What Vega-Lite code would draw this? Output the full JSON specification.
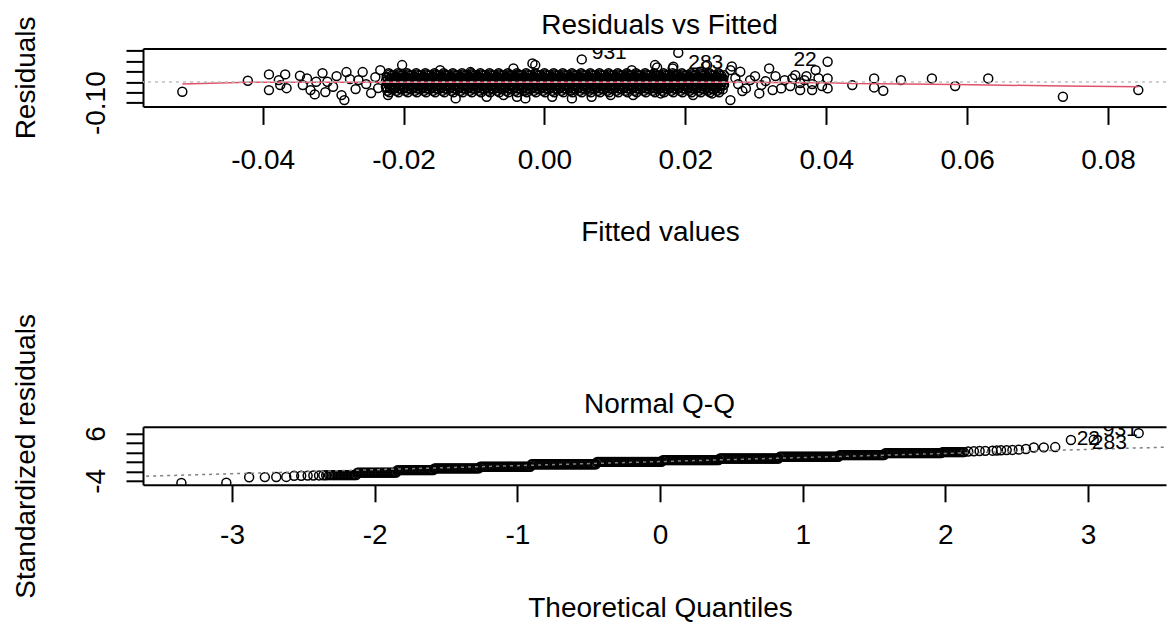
{
"$schema": "https://vega.github.io/schema/vega-lite/v6.json",
"background": "white",
"autosize": {"type": "pad"},
"padding": {"left": 12, "top": 12.4, "right": 0, "bottom": 0},
"bounds": "flush",
"spacing": 320.4,
"config": {
 "font": "Liberation Sans",
 "view": {"stroke": null},
 "axis": {"domainColor": "#000", "domainWidth": 2, "tickColor": "#000", "tickWidth": 2, "labelColor": "#000", "labelFontSize": 28, "labelFont": "Liberation Sans", "titleFont": "Liberation Sans", "titleFontSize": 28, "titleFontWeight": "normal", "titleColor": "#000", "grid": false, "labelOverlap": false, "labelFlush": false, "labelBound": false}
},
"datasets": {
 "resid": [
{"f":-0.0514,"r":-0.0476},{"f":-0.0421,"r":0.0056},{"f":-0.0391,"r":0.0365},{"f":-0.0391,"r":-0.0394},{"f":-0.0375,"r":-0.0152},{"f":-0.0368,"r":0.0365},{"f":-0.0377,"r":0.0089},{"f":-0.0366,"r":-0.030},{"f":-0.0347,"r":0.0297},{"f":-0.0343,"r":-0.0152},{"f":-0.0337,"r":0.0171},{"f":-0.0332,"r":-0.0394},{"f":-0.0326,"r":-0.060},{"f":-0.0324,"r":0.0007},{"f":-0.0315,"r":0.0427},{"f":-0.0311,"r":-0.049},{"f":-0.0308,"r":0.0007},{"f":-0.0300,"r":-0.0234},{"f":-0.0295,"r":0.0282},{"f":-0.0288,"r":-0.0635},{"f":-0.0284,"r":-0.0876},{"f":-0.0281,"r":0.0476},{"f":-0.0276,"r":0.0138},{"f":-0.0268,"r":-0.0345},{"f":-0.0264,"r":0.0089},{"f":-0.0258,"r":0.0476},{"f":-0.0253,"r":-0.0104},{"f":-0.0246,"r":-0.0538},{"f":-0.0240,"r":0.0234},{"f":-0.0236,"r":-0.0297},{"f":-0.0233,"r":0.0572},{"f":-0.0222,"r":-0.0635},{"f":-0.0202,"r":0.0814},{"f":-0.0148,"r":0.0572},{"f":-0.0126,"r":-0.0794},{"f":-0.0105,"r":0.0476},{"f":-0.0082,"r":-0.0717},{"f":-0.0058,"r":-0.0635},{"f":-0.0044,"r":0.0654},{"f":-0.0039,"r":-0.0717},{"f":-0.0027,"r":-0.0794},{"f":-0.0017,"r":0.0896},{"f":-0.0013,"r":0.0814},{"f":0.0011,"r":-0.0717},{"f":0.0039,"r":-0.0794},{"f":0.0053,"r":0.1089},{"f":0.0067,"r":-0.0717},{"f":0.0094,"r":-0.0635},{"f":0.0124,"r":0.0572},{"f":0.0126,"r":-0.0635},{"f":0.0157,"r":0.0814},{"f":0.0160,"r":0.070},{"f":0.0165,"r":-0.0553},{"f":0.0182,"r":0.0654},{"f":0.0183,"r":0.0732},{"f":0.0190,"r":0.1408},{"f":0.0211,"r":-0.0635},{"f":0.0221,"r":0.0490},{"f":0.0231,"r":0.0814},{"f":0.0238,"r":-0.0553},{"f":0.0264,"r":-0.0876},{"f":0.0264,"r":0.0572},{"f":0.0266,"r":0.075},{"f":0.0271,"r":0.0186},{"f":0.0275,"r":-0.0104},{"f":0.0278,"r":0.0490},{"f":0.0281,"r":-0.0441},{"f":0.0286,"r":-0.0311},{"f":0.0292,"r":0.0089},{"f":0.0299,"r":0.0282},{"f":0.0305,"r":-0.0553},{"f":0.0308,"r":-0.0152},{"f":0.0314,"r":0.0041},{"f":0.0319,"r":0.0654},{"f":0.0324,"r":-0.0394},{"f":0.0328,"r":0.0282},{"f":0.0336,"r":-0.0311},{"f":0.0341,"r":0.0089},{"f":0.0349,"r":-0.0200},{"f":0.0352,"r":0.0171},{"f":0.0356,"r":0.0331},{"f":0.0363,"r":-0.0394},{"f":0.0363,"r":-0.0056},{"f":0.0369,"r":0.0089},{"f":0.0372,"r":0.0282},{"f":0.0380,"r":-0.0394},{"f":0.0380,"r":-0.0104},{"f":0.0385,"r":0.0572},{"f":0.0389,"r":0.0186},{"f":0.0394,"r":-0.0200},{"f":0.0402,"r":0.0171},{"f":0.0402,"r":-0.0311},{"f":0.0402,"r":0.0973},{"f":0.0437,"r":-0.0152},{"f":0.0468,"r":0.0171},{"f":0.0468,"r":-0.0263},{"f":0.0481,"r":-0.0427},{"f":0.0506,"r":0.0089},{"f":0.0550,"r":0.0171},{"f":0.0583,"r":-0.0200},{"f":0.0630,"r":0.0171},{"f":0.0736,"r":-0.0717},{"f":0.0843,"r":-0.0394},
{"f":-0.0225,"r":0.004},{"f":-0.0224,"r":-0.028},{"f":-0.0223,"r":0.021},{"f":-0.0222,"r":-0.009},{"f":-0.0221,"r":0.042},{"f":-0.022,"r":-0.05},{"f":-0.0219,"r":0.012},{"f":-0.0218,"r":-0.018},{"f":-0.0217,"r":0.03},{"f":-0.0216,"r":-0.002},{"f":-0.0215,"r":-0.036},{"f":-0.0214,"r":0.016},{"f":-0.0213,"r":-0.013},
{"f":-0.0212,"r":0.004},{"f":-0.0211,"r":-0.028},{"f":-0.021,"r":0.021},{"f":-0.0209,"r":-0.009},{"f":-0.0208,"r":0.042},{"f":-0.0207,"r":-0.05},{"f":-0.0206,"r":0.012},{"f":-0.0205,"r":-0.018},{"f":-0.0204,"r":0.03},{"f":-0.0203,"r":-0.002},{"f":-0.0202,"r":-0.036},{"f":-0.0201,"r":0.016},{"f":-0.02,"r":-0.013},
{"f":-0.0199,"r":0.004},{"f":-0.0198,"r":-0.028},{"f":-0.0197,"r":0.021},{"f":-0.0196,"r":-0.009},{"f":-0.0195,"r":0.042},{"f":-0.0194,"r":-0.05},{"f":-0.0193,"r":0.012},{"f":-0.0192,"r":-0.018},{"f":-0.0191,"r":0.03},{"f":-0.019,"r":-0.002},{"f":-0.0189,"r":-0.036},{"f":-0.0188,"r":0.016},{"f":-0.0187,"r":-0.013},
{"f":-0.0186,"r":0.004},{"f":-0.0185,"r":-0.028},{"f":-0.0184,"r":0.021},{"f":-0.0183,"r":-0.009},{"f":-0.0182,"r":0.042},{"f":-0.0181,"r":-0.05},{"f":-0.018,"r":0.012},{"f":-0.0179,"r":-0.018},{"f":-0.0178,"r":0.03},{"f":-0.0177,"r":-0.002},{"f":-0.0176,"r":-0.036},{"f":-0.0175,"r":0.016},{"f":-0.0174,"r":-0.013},
{"f":-0.0173,"r":0.004},{"f":-0.0172,"r":-0.028},{"f":-0.0171,"r":0.021},{"f":-0.017,"r":-0.009},{"f":-0.0169,"r":0.042},{"f":-0.0168,"r":-0.05},{"f":-0.0167,"r":0.012},{"f":-0.0166,"r":-0.018},{"f":-0.0165,"r":0.03},{"f":-0.0164,"r":-0.002},{"f":-0.0163,"r":-0.036},{"f":-0.0162,"r":0.016},{"f":-0.0161,"r":-0.013},
{"f":-0.016,"r":0.004},{"f":-0.0159,"r":-0.028},{"f":-0.0158,"r":0.021},{"f":-0.0157,"r":-0.009},{"f":-0.0156,"r":0.042},{"f":-0.0155,"r":-0.05},{"f":-0.0154,"r":0.012},{"f":-0.0153,"r":-0.018},{"f":-0.0152,"r":0.03},{"f":-0.0151,"r":-0.002},{"f":-0.015,"r":-0.036},{"f":-0.0149,"r":0.016},{"f":-0.0148,"r":-0.013},
{"f":-0.0147,"r":0.004},{"f":-0.0146,"r":-0.028},{"f":-0.0145,"r":0.021},{"f":-0.0144,"r":-0.009},{"f":-0.0143,"r":0.042},{"f":-0.0142,"r":-0.05},{"f":-0.0141,"r":0.012},{"f":-0.014,"r":-0.018},{"f":-0.0139,"r":0.03},{"f":-0.0138,"r":-0.002},{"f":-0.0137,"r":-0.036},{"f":-0.0136,"r":0.016},{"f":-0.0135,"r":-0.013},
{"f":-0.0134,"r":0.004},{"f":-0.0133,"r":-0.028},{"f":-0.0132,"r":0.021},{"f":-0.0131,"r":-0.009},{"f":-0.013,"r":0.042},{"f":-0.0129,"r":-0.05},{"f":-0.0128,"r":0.012},{"f":-0.0127,"r":-0.018},{"f":-0.0126,"r":0.03},{"f":-0.0125,"r":-0.002},{"f":-0.0124,"r":-0.036},{"f":-0.0123,"r":0.016},{"f":-0.0122,"r":-0.013},
{"f":-0.0121,"r":0.004},{"f":-0.012,"r":-0.028},{"f":-0.0119,"r":0.021},{"f":-0.0118,"r":-0.009},{"f":-0.0117,"r":0.042},{"f":-0.0116,"r":-0.05},{"f":-0.0115,"r":0.012},{"f":-0.0114,"r":-0.018},{"f":-0.0113,"r":0.03},{"f":-0.0112,"r":-0.002},{"f":-0.0111,"r":-0.036},{"f":-0.011,"r":0.016},{"f":-0.0109,"r":-0.013},
{"f":-0.0108,"r":0.004},{"f":-0.0107,"r":-0.028},{"f":-0.0106,"r":0.021},{"f":-0.0105,"r":-0.009},{"f":-0.0104,"r":0.042},{"f":-0.0103,"r":-0.05},{"f":-0.0102,"r":0.012},{"f":-0.0101,"r":-0.018},{"f":-0.01,"r":0.03},{"f":-0.0099,"r":-0.002},{"f":-0.0098,"r":-0.036},{"f":-0.0097,"r":0.016},{"f":-0.0096,"r":-0.013},
{"f":-0.0095,"r":0.004},{"f":-0.0094,"r":-0.028},{"f":-0.0093,"r":0.021},{"f":-0.0092,"r":-0.009},{"f":-0.0091,"r":0.042},{"f":-0.009,"r":-0.05},{"f":-0.0089,"r":0.012},{"f":-0.0088,"r":-0.018},{"f":-0.0087,"r":0.03},{"f":-0.0086,"r":-0.002},{"f":-0.0085,"r":-0.036},{"f":-0.0084,"r":0.016},{"f":-0.0083,"r":-0.013},
{"f":-0.0082,"r":0.004},{"f":-0.0081,"r":-0.028},{"f":-0.008,"r":0.021},{"f":-0.0079,"r":-0.009},{"f":-0.0078,"r":0.042},{"f":-0.0077,"r":-0.05},{"f":-0.0076,"r":0.012},{"f":-0.0075,"r":-0.018},{"f":-0.0074,"r":0.03},{"f":-0.0073,"r":-0.002},{"f":-0.0072,"r":-0.036},{"f":-0.0071,"r":0.016},{"f":-0.007,"r":-0.013},
{"f":-0.0069,"r":0.004},{"f":-0.0068,"r":-0.028},{"f":-0.0067,"r":0.021},{"f":-0.0066,"r":-0.009},{"f":-0.0065,"r":0.042},{"f":-0.0064,"r":-0.05},{"f":-0.0063,"r":0.012},{"f":-0.0062,"r":-0.018},{"f":-0.0061,"r":0.03},{"f":-0.006,"r":-0.002},{"f":-0.0059,"r":-0.036},{"f":-0.0058,"r":0.016},{"f":-0.0057,"r":-0.013},
{"f":-0.0056,"r":0.004},{"f":-0.0055,"r":-0.028},{"f":-0.0054,"r":0.021},{"f":-0.0053,"r":-0.009},{"f":-0.0052,"r":0.042},{"f":-0.0051,"r":-0.05},{"f":-0.005,"r":0.012},{"f":-0.0049,"r":-0.018},{"f":-0.0048,"r":0.03},{"f":-0.0047,"r":-0.002},{"f":-0.0046,"r":-0.036},{"f":-0.0045,"r":0.016},{"f":-0.0044,"r":-0.013},
{"f":-0.0043,"r":0.004},{"f":-0.0042,"r":-0.028},{"f":-0.0041,"r":0.021},{"f":-0.004,"r":-0.009},{"f":-0.0039,"r":0.042},{"f":-0.0038,"r":-0.05},{"f":-0.0037,"r":0.012},{"f":-0.0036,"r":-0.018},{"f":-0.0035,"r":0.03},{"f":-0.0034,"r":-0.002},{"f":-0.0033,"r":-0.036},{"f":-0.0032,"r":0.016},{"f":-0.0031,"r":-0.013},
{"f":-0.003,"r":0.004},{"f":-0.0029,"r":-0.028},{"f":-0.0028,"r":0.021},{"f":-0.0027,"r":-0.009},{"f":-0.0026,"r":0.042},{"f":-0.0025,"r":-0.05},{"f":-0.0024,"r":0.012},{"f":-0.0023,"r":-0.018},{"f":-0.0022,"r":0.03},{"f":-0.0021,"r":-0.002},{"f":-0.002,"r":-0.036},{"f":-0.0019,"r":0.016},{"f":-0.0018,"r":-0.013},
{"f":-0.0017,"r":0.004},{"f":-0.0016,"r":-0.028},{"f":-0.0015,"r":0.021},{"f":-0.0014,"r":-0.009},{"f":-0.0013,"r":0.042},{"f":-0.0012,"r":-0.05},{"f":-0.0011,"r":0.012},{"f":-0.001,"r":-0.018},{"f":-0.0009,"r":0.03},{"f":-0.0008,"r":-0.002},{"f":-0.0007,"r":-0.036},{"f":-0.0006,"r":0.016},{"f":-0.0005,"r":-0.013},
{"f":-0.0004,"r":0.004},{"f":-0.0003,"r":-0.028},{"f":-0.0002,"r":0.021},{"f":-0.0001,"r":-0.009},{"f":0,"r":0.042},{"f":0.0001,"r":-0.05},{"f":0.0002,"r":0.012},{"f":0.0003,"r":-0.018},{"f":0.0004,"r":0.03},{"f":0.0005,"r":-0.002},{"f":0.0006,"r":-0.036},{"f":0.0007,"r":0.016},{"f":0.0008,"r":-0.013},
{"f":0.0009,"r":0.004},{"f":0.001,"r":-0.028},{"f":0.0011,"r":0.021},{"f":0.0012,"r":-0.009},{"f":0.0013,"r":0.042},{"f":0.0014,"r":-0.05},{"f":0.0015,"r":0.012},{"f":0.0016,"r":-0.018},{"f":0.0017,"r":0.03},{"f":0.0018,"r":-0.002},{"f":0.0019,"r":-0.036},{"f":0.002,"r":0.016},{"f":0.0021,"r":-0.013},
{"f":0.0022,"r":0.004},{"f":0.0023,"r":-0.028},{"f":0.0024,"r":0.021},{"f":0.0025,"r":-0.009},{"f":0.0026,"r":0.042},{"f":0.0027,"r":-0.05},{"f":0.0028,"r":0.012},{"f":0.0029,"r":-0.018},{"f":0.003,"r":0.03},{"f":0.0031,"r":-0.002},{"f":0.0032,"r":-0.036},{"f":0.0033,"r":0.016},{"f":0.0034,"r":-0.013},
{"f":0.0035,"r":0.004},{"f":0.0036,"r":-0.028},{"f":0.0037,"r":0.021},{"f":0.0038,"r":-0.009},{"f":0.0039,"r":0.042},{"f":0.004,"r":-0.05},{"f":0.0041,"r":0.012},{"f":0.0042,"r":-0.018},{"f":0.0043,"r":0.03},{"f":0.0044,"r":-0.002},{"f":0.0045,"r":-0.036},{"f":0.0046,"r":0.016},{"f":0.0047,"r":-0.013},
{"f":0.0048,"r":0.004},{"f":0.0049,"r":-0.028},{"f":0.005,"r":0.021},{"f":0.0051,"r":-0.009},{"f":0.0052,"r":0.042},{"f":0.0053,"r":-0.05},{"f":0.0054,"r":0.012},{"f":0.0055,"r":-0.018},{"f":0.0056,"r":0.03},{"f":0.0057,"r":-0.002},{"f":0.0058,"r":-0.036},{"f":0.0059,"r":0.016},{"f":0.006,"r":-0.013},
{"f":0.0061,"r":0.004},{"f":0.0062,"r":-0.028},{"f":0.0063,"r":0.021},{"f":0.0064,"r":-0.009},{"f":0.0065,"r":0.042},{"f":0.0066,"r":-0.05},{"f":0.0067,"r":0.012},{"f":0.0068,"r":-0.018},{"f":0.0069,"r":0.03},{"f":0.007,"r":-0.002},{"f":0.0071,"r":-0.036},{"f":0.0072,"r":0.016},{"f":0.0073,"r":-0.013},
{"f":0.0074,"r":0.004},{"f":0.0075,"r":-0.028},{"f":0.0076,"r":0.021},{"f":0.0077,"r":-0.009},{"f":0.0078,"r":0.042},{"f":0.0079,"r":-0.05},{"f":0.008,"r":0.012},{"f":0.0081,"r":-0.018},{"f":0.0082,"r":0.03},{"f":0.0083,"r":-0.002},{"f":0.0084,"r":-0.036},{"f":0.0085,"r":0.016},{"f":0.0086,"r":-0.013},
{"f":0.0087,"r":0.004},{"f":0.0088,"r":-0.028},{"f":0.0089,"r":0.021},{"f":0.009,"r":-0.009},{"f":0.0091,"r":0.042},{"f":0.0092,"r":-0.05},{"f":0.0093,"r":0.012},{"f":0.0094,"r":-0.018},{"f":0.0095,"r":0.03},{"f":0.0096,"r":-0.002},{"f":0.0097,"r":-0.036},{"f":0.0098,"r":0.016},{"f":0.0099,"r":-0.013},
{"f":0.01,"r":0.004},{"f":0.0101,"r":-0.028},{"f":0.0102,"r":0.021},{"f":0.0103,"r":-0.009},{"f":0.0104,"r":0.042},{"f":0.0105,"r":-0.05},{"f":0.0106,"r":0.012},{"f":0.0107,"r":-0.018},{"f":0.0108,"r":0.03},{"f":0.0109,"r":-0.002},{"f":0.011,"r":-0.036},{"f":0.0111,"r":0.016},{"f":0.0112,"r":-0.013},
{"f":0.0113,"r":0.004},{"f":0.0114,"r":-0.028},{"f":0.0115,"r":0.021},{"f":0.0116,"r":-0.009},{"f":0.0117,"r":0.042},{"f":0.0118,"r":-0.05},{"f":0.0119,"r":0.012},{"f":0.012,"r":-0.018},{"f":0.0121,"r":0.03},{"f":0.0122,"r":-0.002},{"f":0.0123,"r":-0.036},{"f":0.0124,"r":0.016},{"f":0.0125,"r":-0.013},
{"f":0.0126,"r":0.004},{"f":0.0127,"r":-0.028},{"f":0.0128,"r":0.021},{"f":0.0129,"r":-0.009},{"f":0.013,"r":0.042},{"f":0.0131,"r":-0.05},{"f":0.0132,"r":0.012},{"f":0.0133,"r":-0.018},{"f":0.0134,"r":0.03},{"f":0.0135,"r":-0.002},{"f":0.0136,"r":-0.036},{"f":0.0137,"r":0.016},{"f":0.0138,"r":-0.013},
{"f":0.0139,"r":0.004},{"f":0.014,"r":-0.028},{"f":0.0141,"r":0.021},{"f":0.0142,"r":-0.009},{"f":0.0143,"r":0.042},{"f":0.0144,"r":-0.05},{"f":0.0145,"r":0.012},{"f":0.0146,"r":-0.018},{"f":0.0147,"r":0.03},{"f":0.0148,"r":-0.002},{"f":0.0149,"r":-0.036},{"f":0.015,"r":0.016},{"f":0.0151,"r":-0.013},
{"f":0.0152,"r":0.004},{"f":0.0153,"r":-0.028},{"f":0.0154,"r":0.021},{"f":0.0155,"r":-0.009},{"f":0.0156,"r":0.042},{"f":0.0157,"r":-0.05},{"f":0.0158,"r":0.012},{"f":0.0159,"r":-0.018},{"f":0.016,"r":0.03},{"f":0.0161,"r":-0.002},{"f":0.0162,"r":-0.036},{"f":0.0163,"r":0.016},{"f":0.0164,"r":-0.013},
{"f":0.0165,"r":0.004},{"f":0.0166,"r":-0.028},{"f":0.0167,"r":0.021},{"f":0.0168,"r":-0.009},{"f":0.0169,"r":0.042},{"f":0.017,"r":-0.05},{"f":0.0171,"r":0.012},{"f":0.0172,"r":-0.018},{"f":0.0173,"r":0.03},{"f":0.0174,"r":-0.002},{"f":0.0175,"r":-0.036},{"f":0.0176,"r":0.016},{"f":0.0177,"r":-0.013},
{"f":0.0178,"r":0.004},{"f":0.0179,"r":-0.028},{"f":0.018,"r":0.021},{"f":0.0181,"r":-0.009},{"f":0.0182,"r":0.042},{"f":0.0183,"r":-0.05},{"f":0.0184,"r":0.012},{"f":0.0185,"r":-0.018},{"f":0.0186,"r":0.03},{"f":0.0187,"r":-0.002},{"f":0.0188,"r":-0.036},{"f":0.0189,"r":0.016},{"f":0.019,"r":-0.013},
{"f":0.0191,"r":0.004},{"f":0.0192,"r":-0.028},{"f":0.0193,"r":0.021},{"f":0.0194,"r":-0.009},{"f":0.0195,"r":0.042},{"f":0.0196,"r":-0.05},{"f":0.0197,"r":0.012},{"f":0.0198,"r":-0.018},{"f":0.0199,"r":0.03},{"f":0.02,"r":-0.002},{"f":0.0201,"r":-0.036},{"f":0.0202,"r":0.016},{"f":0.0203,"r":-0.013},
{"f":0.0204,"r":0.004},{"f":0.0205,"r":-0.028},{"f":0.0206,"r":0.021},{"f":0.0207,"r":-0.009},{"f":0.0208,"r":0.042},{"f":0.0209,"r":-0.05},{"f":0.021,"r":0.012},{"f":0.0211,"r":-0.018},{"f":0.0212,"r":0.03},{"f":0.0213,"r":-0.002},{"f":0.0214,"r":-0.036},{"f":0.0215,"r":0.016},{"f":0.0216,"r":-0.013},
{"f":0.0217,"r":0.004},{"f":0.0218,"r":-0.028},{"f":0.0219,"r":0.021},{"f":0.022,"r":-0.009},{"f":0.0221,"r":0.042},{"f":0.0222,"r":-0.05},{"f":0.0223,"r":0.012},{"f":0.0224,"r":-0.018},{"f":0.0225,"r":0.03},{"f":0.0226,"r":-0.002},{"f":0.0227,"r":-0.036},{"f":0.0228,"r":0.016},{"f":0.0229,"r":-0.013},
{"f":0.023,"r":0.004},{"f":0.0231,"r":-0.028},{"f":0.0232,"r":0.021},{"f":0.0233,"r":-0.009},{"f":0.0234,"r":0.042},{"f":0.0235,"r":-0.05},{"f":0.0236,"r":0.012},{"f":0.0237,"r":-0.018},{"f":0.0238,"r":0.03},{"f":0.0239,"r":-0.002},{"f":0.024,"r":-0.036},{"f":0.0241,"r":0.016},{"f":0.0242,"r":-0.013},
{"f":0.0243,"r":0.004},{"f":0.0244,"r":-0.028},{"f":0.0245,"r":0.021},{"f":0.0246,"r":-0.009},{"f":0.0247,"r":0.042},{"f":0.0248,"r":-0.05},{"f":0.0249,"r":0.012},{"f":0.025,"r":-0.018},{"f":0.0251,"r":0.03},{"f":0.0252,"r":-0.002},{"f":0.0253,"r":-0.036},{"f":0.0254,"r":0.016},{"f":0.0255,"r":-0.013},
{"f":-0.0225,"r":-0.023},{"f":-0.0224,"r":0.025},{"f":-0.0223,"r":-0.043},{"f":-0.0222,"r":0.008},{"f":-0.0221,"r":-0.0055},{"f":-0.022,"r":0.036},{"f":-0.0219,"r":-0.032},{"f":-0.0218,"r":0.0185},{"f":-0.0217,"r":-0.011},{"f":-0.0216,"r":0.001},{"f":-0.0215,"r":0.014},{"f":-0.0214,"r":-0.0155},{"f":-0.0213,"r":0.033},
{"f":-0.0212,"r":-0.023},{"f":-0.0211,"r":0.025},{"f":-0.021,"r":-0.043},{"f":-0.0209,"r":0.008},{"f":-0.0208,"r":-0.0055},{"f":-0.0207,"r":0.036},{"f":-0.0206,"r":-0.032},{"f":-0.0205,"r":0.0185},{"f":-0.0204,"r":-0.011},{"f":-0.0203,"r":0.001},{"f":-0.0202,"r":0.014},{"f":-0.0201,"r":-0.0155},{"f":-0.02,"r":0.033},
{"f":-0.0199,"r":-0.023},{"f":-0.0198,"r":0.025},{"f":-0.0197,"r":-0.043},{"f":-0.0196,"r":0.008},{"f":-0.0195,"r":-0.0055},{"f":-0.0194,"r":0.036},{"f":-0.0193,"r":-0.032},{"f":-0.0192,"r":0.0185},{"f":-0.0191,"r":-0.011},{"f":-0.019,"r":0.001},{"f":-0.0189,"r":0.014},{"f":-0.0188,"r":-0.0155},{"f":-0.0187,"r":0.033},
{"f":-0.0186,"r":-0.023},{"f":-0.0185,"r":0.025},{"f":-0.0184,"r":-0.043},{"f":-0.0183,"r":0.008},{"f":-0.0182,"r":-0.0055},{"f":-0.0181,"r":0.036},{"f":-0.018,"r":-0.032},{"f":-0.0179,"r":0.0185},{"f":-0.0178,"r":-0.011},{"f":-0.0177,"r":0.001},{"f":-0.0176,"r":0.014},{"f":-0.0175,"r":-0.0155},{"f":-0.0174,"r":0.033},
{"f":-0.0173,"r":-0.023},{"f":-0.0172,"r":0.025},{"f":-0.0171,"r":-0.043},{"f":-0.017,"r":0.008},{"f":-0.0169,"r":-0.0055},{"f":-0.0168,"r":0.036},{"f":-0.0167,"r":-0.032},{"f":-0.0166,"r":0.0185},{"f":-0.0165,"r":-0.011},{"f":-0.0164,"r":0.001},{"f":-0.0163,"r":0.014},{"f":-0.0162,"r":-0.0155},{"f":-0.0161,"r":0.033},
{"f":-0.016,"r":-0.023},{"f":-0.0159,"r":0.025},{"f":-0.0158,"r":-0.043},{"f":-0.0157,"r":0.008},{"f":-0.0156,"r":-0.0055},{"f":-0.0155,"r":0.036},{"f":-0.0154,"r":-0.032},{"f":-0.0153,"r":0.0185},{"f":-0.0152,"r":-0.011},{"f":-0.0151,"r":0.001},{"f":-0.015,"r":0.014},{"f":-0.0149,"r":-0.0155},{"f":-0.0148,"r":0.033},
{"f":-0.0147,"r":-0.023},{"f":-0.0146,"r":0.025},{"f":-0.0145,"r":-0.043},{"f":-0.0144,"r":0.008},{"f":-0.0143,"r":-0.0055},{"f":-0.0142,"r":0.036},{"f":-0.0141,"r":-0.032},{"f":-0.014,"r":0.0185},{"f":-0.0139,"r":-0.011},{"f":-0.0138,"r":0.001},{"f":-0.0137,"r":0.014},{"f":-0.0136,"r":-0.0155},{"f":-0.0135,"r":0.033},
{"f":-0.0134,"r":-0.023},{"f":-0.0133,"r":0.025},{"f":-0.0132,"r":-0.043},{"f":-0.0131,"r":0.008},{"f":-0.013,"r":-0.0055},{"f":-0.0129,"r":0.036},{"f":-0.0128,"r":-0.032},{"f":-0.0127,"r":0.0185},{"f":-0.0126,"r":-0.011},{"f":-0.0125,"r":0.001},{"f":-0.0124,"r":0.014},{"f":-0.0123,"r":-0.0155},{"f":-0.0122,"r":0.033},
{"f":-0.0121,"r":-0.023},{"f":-0.012,"r":0.025},{"f":-0.0119,"r":-0.043},{"f":-0.0118,"r":0.008},{"f":-0.0117,"r":-0.0055},{"f":-0.0116,"r":0.036},{"f":-0.0115,"r":-0.032},{"f":-0.0114,"r":0.0185},{"f":-0.0113,"r":-0.011},{"f":-0.0112,"r":0.001},{"f":-0.0111,"r":0.014},{"f":-0.011,"r":-0.0155},{"f":-0.0109,"r":0.033},
{"f":-0.0108,"r":-0.023},{"f":-0.0107,"r":0.025},{"f":-0.0106,"r":-0.043},{"f":-0.0105,"r":0.008},{"f":-0.0104,"r":-0.0055},{"f":-0.0103,"r":0.036},{"f":-0.0102,"r":-0.032},{"f":-0.0101,"r":0.0185},{"f":-0.01,"r":-0.011},{"f":-0.0099,"r":0.001},{"f":-0.0098,"r":0.014},{"f":-0.0097,"r":-0.0155},{"f":-0.0096,"r":0.033},
{"f":-0.0095,"r":-0.023},{"f":-0.0094,"r":0.025},{"f":-0.0093,"r":-0.043},{"f":-0.0092,"r":0.008},{"f":-0.0091,"r":-0.0055},{"f":-0.009,"r":0.036},{"f":-0.0089,"r":-0.032},{"f":-0.0088,"r":0.0185},{"f":-0.0087,"r":-0.011},{"f":-0.0086,"r":0.001},{"f":-0.0085,"r":0.014},{"f":-0.0084,"r":-0.0155},{"f":-0.0083,"r":0.033},
{"f":-0.0082,"r":-0.023},{"f":-0.0081,"r":0.025},{"f":-0.008,"r":-0.043},{"f":-0.0079,"r":0.008},{"f":-0.0078,"r":-0.0055},{"f":-0.0077,"r":0.036},{"f":-0.0076,"r":-0.032},{"f":-0.0075,"r":0.0185},{"f":-0.0074,"r":-0.011},{"f":-0.0073,"r":0.001},{"f":-0.0072,"r":0.014},{"f":-0.0071,"r":-0.0155},{"f":-0.007,"r":0.033},
{"f":-0.0069,"r":-0.023},{"f":-0.0068,"r":0.025},{"f":-0.0067,"r":-0.043},{"f":-0.0066,"r":0.008},{"f":-0.0065,"r":-0.0055},{"f":-0.0064,"r":0.036},{"f":-0.0063,"r":-0.032},{"f":-0.0062,"r":0.0185},{"f":-0.0061,"r":-0.011},{"f":-0.006,"r":0.001},{"f":-0.0059,"r":0.014},{"f":-0.0058,"r":-0.0155},{"f":-0.0057,"r":0.033},
{"f":-0.0056,"r":-0.023},{"f":-0.0055,"r":0.025},{"f":-0.0054,"r":-0.043},{"f":-0.0053,"r":0.008},{"f":-0.0052,"r":-0.0055},{"f":-0.0051,"r":0.036},{"f":-0.005,"r":-0.032},{"f":-0.0049,"r":0.0185},{"f":-0.0048,"r":-0.011},{"f":-0.0047,"r":0.001},{"f":-0.0046,"r":0.014},{"f":-0.0045,"r":-0.0155},{"f":-0.0044,"r":0.033},
{"f":-0.0043,"r":-0.023},{"f":-0.0042,"r":0.025},{"f":-0.0041,"r":-0.043},{"f":-0.004,"r":0.008},{"f":-0.0039,"r":-0.0055},{"f":-0.0038,"r":0.036},{"f":-0.0037,"r":-0.032},{"f":-0.0036,"r":0.0185},{"f":-0.0035,"r":-0.011},{"f":-0.0034,"r":0.001},{"f":-0.0033,"r":0.014},{"f":-0.0032,"r":-0.0155},{"f":-0.0031,"r":0.033},
{"f":-0.003,"r":-0.023},{"f":-0.0029,"r":0.025},{"f":-0.0028,"r":-0.043},{"f":-0.0027,"r":0.008},{"f":-0.0026,"r":-0.0055},{"f":-0.0025,"r":0.036},{"f":-0.0024,"r":-0.032},{"f":-0.0023,"r":0.0185},{"f":-0.0022,"r":-0.011},{"f":-0.0021,"r":0.001},{"f":-0.002,"r":0.014},{"f":-0.0019,"r":-0.0155},{"f":-0.0018,"r":0.033},
{"f":-0.0017,"r":-0.023},{"f":-0.0016,"r":0.025},{"f":-0.0015,"r":-0.043},{"f":-0.0014,"r":0.008},{"f":-0.0013,"r":-0.0055},{"f":-0.0012,"r":0.036},{"f":-0.0011,"r":-0.032},{"f":-0.001,"r":0.0185},{"f":-0.0009,"r":-0.011},{"f":-0.0008,"r":0.001},{"f":-0.0007,"r":0.014},{"f":-0.0006,"r":-0.0155},{"f":-0.0005,"r":0.033},
{"f":-0.0004,"r":-0.023},{"f":-0.0003,"r":0.025},{"f":-0.0002,"r":-0.043},{"f":-0.0001,"r":0.008},{"f":0,"r":-0.0055},{"f":0.0001,"r":0.036},{"f":0.0002,"r":-0.032},{"f":0.0003,"r":0.0185},{"f":0.0004,"r":-0.011},{"f":0.0005,"r":0.001},{"f":0.0006,"r":0.014},{"f":0.0007,"r":-0.0155},{"f":0.0008,"r":0.033},
{"f":0.0009,"r":-0.023},{"f":0.001,"r":0.025},{"f":0.0011,"r":-0.043},{"f":0.0012,"r":0.008},{"f":0.0013,"r":-0.0055},{"f":0.0014,"r":0.036},{"f":0.0015,"r":-0.032},{"f":0.0016,"r":0.0185},{"f":0.0017,"r":-0.011},{"f":0.0018,"r":0.001},{"f":0.0019,"r":0.014},{"f":0.002,"r":-0.0155},{"f":0.0021,"r":0.033},
{"f":0.0022,"r":-0.023},{"f":0.0023,"r":0.025},{"f":0.0024,"r":-0.043},{"f":0.0025,"r":0.008},{"f":0.0026,"r":-0.0055},{"f":0.0027,"r":0.036},{"f":0.0028,"r":-0.032},{"f":0.0029,"r":0.0185},{"f":0.003,"r":-0.011},{"f":0.0031,"r":0.001},{"f":0.0032,"r":0.014},{"f":0.0033,"r":-0.0155},{"f":0.0034,"r":0.033},
{"f":0.0035,"r":-0.023},{"f":0.0036,"r":0.025},{"f":0.0037,"r":-0.043},{"f":0.0038,"r":0.008},{"f":0.0039,"r":-0.0055},{"f":0.004,"r":0.036},{"f":0.0041,"r":-0.032},{"f":0.0042,"r":0.0185},{"f":0.0043,"r":-0.011},{"f":0.0044,"r":0.001},{"f":0.0045,"r":0.014},{"f":0.0046,"r":-0.0155},{"f":0.0047,"r":0.033},
{"f":0.0048,"r":-0.023},{"f":0.0049,"r":0.025},{"f":0.005,"r":-0.043},{"f":0.0051,"r":0.008},{"f":0.0052,"r":-0.0055},{"f":0.0053,"r":0.036},{"f":0.0054,"r":-0.032},{"f":0.0055,"r":0.0185},{"f":0.0056,"r":-0.011},{"f":0.0057,"r":0.001},{"f":0.0058,"r":0.014},{"f":0.0059,"r":-0.0155},{"f":0.006,"r":0.033},
{"f":0.0061,"r":-0.023},{"f":0.0062,"r":0.025},{"f":0.0063,"r":-0.043},{"f":0.0064,"r":0.008},{"f":0.0065,"r":-0.0055},{"f":0.0066,"r":0.036},{"f":0.0067,"r":-0.032},{"f":0.0068,"r":0.0185},{"f":0.0069,"r":-0.011},{"f":0.007,"r":0.001},{"f":0.0071,"r":0.014},{"f":0.0072,"r":-0.0155},{"f":0.0073,"r":0.033},
{"f":0.0074,"r":-0.023},{"f":0.0075,"r":0.025},{"f":0.0076,"r":-0.043},{"f":0.0077,"r":0.008},{"f":0.0078,"r":-0.0055},{"f":0.0079,"r":0.036},{"f":0.008,"r":-0.032},{"f":0.0081,"r":0.0185},{"f":0.0082,"r":-0.011},{"f":0.0083,"r":0.001},{"f":0.0084,"r":0.014},{"f":0.0085,"r":-0.0155},{"f":0.0086,"r":0.033},
{"f":0.0087,"r":-0.023},{"f":0.0088,"r":0.025},{"f":0.0089,"r":-0.043},{"f":0.009,"r":0.008},{"f":0.0091,"r":-0.0055},{"f":0.0092,"r":0.036},{"f":0.0093,"r":-0.032},{"f":0.0094,"r":0.0185},{"f":0.0095,"r":-0.011},{"f":0.0096,"r":0.001},{"f":0.0097,"r":0.014},{"f":0.0098,"r":-0.0155},{"f":0.0099,"r":0.033},
{"f":0.01,"r":-0.023},{"f":0.0101,"r":0.025},{"f":0.0102,"r":-0.043},{"f":0.0103,"r":0.008},{"f":0.0104,"r":-0.0055},{"f":0.0105,"r":0.036},{"f":0.0106,"r":-0.032},{"f":0.0107,"r":0.0185},{"f":0.0108,"r":-0.011},{"f":0.0109,"r":0.001},{"f":0.011,"r":0.014},{"f":0.0111,"r":-0.0155},{"f":0.0112,"r":0.033},
{"f":0.0113,"r":-0.023},{"f":0.0114,"r":0.025},{"f":0.0115,"r":-0.043},{"f":0.0116,"r":0.008},{"f":0.0117,"r":-0.0055},{"f":0.0118,"r":0.036},{"f":0.0119,"r":-0.032},{"f":0.012,"r":0.0185},{"f":0.0121,"r":-0.011},{"f":0.0122,"r":0.001},{"f":0.0123,"r":0.014},{"f":0.0124,"r":-0.0155},{"f":0.0125,"r":0.033},
{"f":0.0126,"r":-0.023},{"f":0.0127,"r":0.025},{"f":0.0128,"r":-0.043},{"f":0.0129,"r":0.008},{"f":0.013,"r":-0.0055},{"f":0.0131,"r":0.036},{"f":0.0132,"r":-0.032},{"f":0.0133,"r":0.0185},{"f":0.0134,"r":-0.011},{"f":0.0135,"r":0.001},{"f":0.0136,"r":0.014},{"f":0.0137,"r":-0.0155},{"f":0.0138,"r":0.033},
{"f":0.0139,"r":-0.023},{"f":0.014,"r":0.025},{"f":0.0141,"r":-0.043},{"f":0.0142,"r":0.008},{"f":0.0143,"r":-0.0055},{"f":0.0144,"r":0.036},{"f":0.0145,"r":-0.032},{"f":0.0146,"r":0.0185},{"f":0.0147,"r":-0.011},{"f":0.0148,"r":0.001},{"f":0.0149,"r":0.014},{"f":0.015,"r":-0.0155},{"f":0.0151,"r":0.033},
{"f":0.0152,"r":-0.023},{"f":0.0153,"r":0.025},{"f":0.0154,"r":-0.043},{"f":0.0155,"r":0.008},{"f":0.0156,"r":-0.0055},{"f":0.0157,"r":0.036},{"f":0.0158,"r":-0.032},{"f":0.0159,"r":0.0185},{"f":0.016,"r":-0.011},{"f":0.0161,"r":0.001},{"f":0.0162,"r":0.014},{"f":0.0163,"r":-0.0155},{"f":0.0164,"r":0.033},
{"f":0.0165,"r":-0.023},{"f":0.0166,"r":0.025},{"f":0.0167,"r":-0.043},{"f":0.0168,"r":0.008},{"f":0.0169,"r":-0.0055},{"f":0.017,"r":0.036},{"f":0.0171,"r":-0.032},{"f":0.0172,"r":0.0185},{"f":0.0173,"r":-0.011},{"f":0.0174,"r":0.001},{"f":0.0175,"r":0.014},{"f":0.0176,"r":-0.0155},{"f":0.0177,"r":0.033},
{"f":0.0178,"r":-0.023},{"f":0.0179,"r":0.025},{"f":0.018,"r":-0.043},{"f":0.0181,"r":0.008},{"f":0.0182,"r":-0.0055},{"f":0.0183,"r":0.036},{"f":0.0184,"r":-0.032},{"f":0.0185,"r":0.0185},{"f":0.0186,"r":-0.011},{"f":0.0187,"r":0.001},{"f":0.0188,"r":0.014},{"f":0.0189,"r":-0.0155},{"f":0.019,"r":0.033},
{"f":0.0191,"r":-0.023},{"f":0.0192,"r":0.025},{"f":0.0193,"r":-0.043},{"f":0.0194,"r":0.008},{"f":0.0195,"r":-0.0055},{"f":0.0196,"r":0.036},{"f":0.0197,"r":-0.032},{"f":0.0198,"r":0.0185},{"f":0.0199,"r":-0.011},{"f":0.02,"r":0.001},{"f":0.0201,"r":0.014},{"f":0.0202,"r":-0.0155},{"f":0.0203,"r":0.033},
{"f":0.0204,"r":-0.023},{"f":0.0205,"r":0.025},{"f":0.0206,"r":-0.043},{"f":0.0207,"r":0.008},{"f":0.0208,"r":-0.0055},{"f":0.0209,"r":0.036},{"f":0.021,"r":-0.032},{"f":0.0211,"r":0.0185},{"f":0.0212,"r":-0.011},{"f":0.0213,"r":0.001},{"f":0.0214,"r":0.014},{"f":0.0215,"r":-0.0155},{"f":0.0216,"r":0.033},
{"f":0.0217,"r":-0.023},{"f":0.0218,"r":0.025},{"f":0.0219,"r":-0.043},{"f":0.022,"r":0.008},{"f":0.0221,"r":-0.0055},{"f":0.0222,"r":0.036},{"f":0.0223,"r":-0.032},{"f":0.0224,"r":0.0185},{"f":0.0225,"r":-0.011},{"f":0.0226,"r":0.001},{"f":0.0227,"r":0.014},{"f":0.0228,"r":-0.0155},{"f":0.0229,"r":0.033},
{"f":0.023,"r":-0.023},{"f":0.0231,"r":0.025},{"f":0.0232,"r":-0.043},{"f":0.0233,"r":0.008},{"f":0.0234,"r":-0.0055},{"f":0.0235,"r":0.036},{"f":0.0236,"r":-0.032},{"f":0.0237,"r":0.0185},{"f":0.0238,"r":-0.011},{"f":0.0239,"r":0.001},{"f":0.024,"r":0.014},{"f":0.0241,"r":-0.0155},{"f":0.0242,"r":0.033},
{"f":0.0243,"r":-0.023},{"f":0.0244,"r":0.025},{"f":0.0245,"r":-0.043},{"f":0.0246,"r":0.008},{"f":0.0247,"r":-0.0055},{"f":0.0248,"r":0.036},{"f":0.0249,"r":-0.032},{"f":0.025,"r":0.0185},{"f":0.0251,"r":-0.011},{"f":0.0252,"r":0.001},{"f":0.0253,"r":0.014},{"f":0.0254,"r":-0.0155},{"f":0.0255,"r":0.033}
 ],
 "lowess": [{"f":-0.0514,"r":-0.0104},{"f":-0.0421,"r":-0.002},{"f":-0.03,"r":-0.002},{"f":0.0,"r":-0.002},{"f":0.03,"r":-0.002},{"f":0.0402,"r":-0.004},{"f":0.0437,"r":-0.008},{"f":0.0583,"r":-0.012},{"f":0.063,"r":-0.015},{"f":0.0736,"r":-0.019},{"f":0.0843,"r":-0.023}],
 "zero": [{"r":0}],
 "rlab": [{"f":0.0092,"r":0.1379,"t":"931"},{"f":0.0229,"r":0.0896,"t":"283"},{"f":0.0370,"r":0.1055,"t":"22"}],
 "qq": [
{"q":-3.355,"s":-4.45},{"q":-3.04,"s":-4.42},{"q":-2.88,"s":-3.25},{"q":-2.77,"s":-3.22},{"q":-2.69,"s":-3.2},{"q":-2.62,"s":-3.18},{"q":-2.565,"s":-2.95},{"q":-2.515,"s":-2.92},{"q":-2.47,"s":-2.9},{"q":-2.43,"s":-2.88},{"q":-2.39,"s":-2.86},{"q":-2.36,"s":-2.84},{"q":-2.34,"s":-2.82},
{"q":-2.32,"s":-2.8},{"q":-2.31,"s":-2.8},{"q":-2.3,"s":-2.8},{"q":-2.29,"s":-2.8},{"q":-2.28,"s":-2.8},{"q":-2.27,"s":-2.8},{"q":-2.26,"s":-2.8},{"q":-2.25,"s":-2.8},{"q":-2.24,"s":-2.8},{"q":-2.23,"s":-2.8},{"q":-2.22,"s":-2.8},{"q":-2.21,"s":-2.8},{"q":-2.2,"s":-2.8},{"q":-2.19,"s":-2.8},{"q":-2.18,"s":-2.8},{"q":-2.17,"s":-2.8},{"q":-2.16,"s":-2.8},{"q":-2.15,"s":-2.8},{"q":-2.14,"s":-2.8},{"q":-2.13,"s":-2.8},
{"q":-2.12,"s":-2.27},{"q":-2.11,"s":-2.27},{"q":-2.1,"s":-2.27},{"q":-2.09,"s":-2.27},{"q":-2.08,"s":-2.27},{"q":-2.07,"s":-2.27},{"q":-2.06,"s":-2.27},{"q":-2.05,"s":-2.27},{"q":-2.04,"s":-2.27},{"q":-2.03,"s":-2.27},{"q":-2.02,"s":-2.27},{"q":-2.01,"s":-2.27},{"q":-2,"s":-2.27},{"q":-1.99,"s":-2.27},{"q":-1.98,"s":-2.27},{"q":-1.97,"s":-2.27},{"q":-1.96,"s":-2.27},{"q":-1.95,"s":-2.27},{"q":-1.94,"s":-2.27},{"q":-1.93,"s":-2.27},{"q":-1.92,"s":-2.27},{"q":-1.91,"s":-2.27},{"q":-1.9,"s":-2.27},{"q":-1.89,"s":-2.27},{"q":-1.88,"s":-2.27},{"q":-1.87,"s":-2.27},{"q":-1.86,"s":-2.27},{"q":-1.85,"s":-2.27},
{"q":-1.84,"s":-1.74},{"q":-1.83,"s":-1.74},{"q":-1.82,"s":-1.74},{"q":-1.81,"s":-1.74},{"q":-1.8,"s":-1.74},{"q":-1.79,"s":-1.74},{"q":-1.78,"s":-1.74},{"q":-1.77,"s":-1.74},{"q":-1.76,"s":-1.74},{"q":-1.75,"s":-1.74},{"q":-1.74,"s":-1.74},{"q":-1.73,"s":-1.74},{"q":-1.72,"s":-1.74},{"q":-1.71,"s":-1.74},{"q":-1.7,"s":-1.74},{"q":-1.69,"s":-1.74},{"q":-1.68,"s":-1.74},{"q":-1.67,"s":-1.74},{"q":-1.66,"s":-1.74},{"q":-1.65,"s":-1.74},{"q":-1.64,"s":-1.74},{"q":-1.63,"s":-1.74},{"q":-1.62,"s":-1.74},{"q":-1.61,"s":-1.74},{"q":-1.6,"s":-1.74},{"q":-1.59,"s":-1.74},
{"q":-1.58,"s":-1.38},{"q":-1.57,"s":-1.38},{"q":-1.56,"s":-1.38},{"q":-1.55,"s":-1.38},{"q":-1.54,"s":-1.38},{"q":-1.53,"s":-1.38},{"q":-1.52,"s":-1.38},{"q":-1.51,"s":-1.38},{"q":-1.5,"s":-1.38},{"q":-1.49,"s":-1.38},{"q":-1.48,"s":-1.38},{"q":-1.47,"s":-1.38},{"q":-1.46,"s":-1.38},{"q":-1.45,"s":-1.38},{"q":-1.44,"s":-1.38},{"q":-1.43,"s":-1.38},{"q":-1.42,"s":-1.38},{"q":-1.41,"s":-1.38},{"q":-1.4,"s":-1.38},{"q":-1.39,"s":-1.38},{"q":-1.38,"s":-1.38},{"q":-1.37,"s":-1.38},{"q":-1.36,"s":-1.38},{"q":-1.35,"s":-1.38},{"q":-1.34,"s":-1.38},{"q":-1.33,"s":-1.38},{"q":-1.32,"s":-1.38},{"q":-1.31,"s":-1.38},{"q":-1.3,"s":-1.38},{"q":-1.29,"s":-1.38},{"q":-1.28,"s":-1.38},{"q":-1.27,"s":-1.38},
{"q":-1.26,"s":-1.05},{"q":-1.25,"s":-1.05},{"q":-1.24,"s":-1.05},{"q":-1.23,"s":-1.05},{"q":-1.22,"s":-1.05},{"q":-1.21,"s":-1.05},{"q":-1.2,"s":-1.05},{"q":-1.19,"s":-1.05},{"q":-1.18,"s":-1.05},{"q":-1.17,"s":-1.05},{"q":-1.16,"s":-1.05},{"q":-1.15,"s":-1.05},{"q":-1.14,"s":-1.05},{"q":-1.13,"s":-1.05},{"q":-1.12,"s":-1.05},{"q":-1.11,"s":-1.05},{"q":-1.1,"s":-1.05},{"q":-1.09,"s":-1.05},{"q":-1.08,"s":-1.05},{"q":-1.07,"s":-1.05},{"q":-1.06,"s":-1.05},{"q":-1.05,"s":-1.05},{"q":-1.04,"s":-1.05},{"q":-1.03,"s":-1.05},{"q":-1.02,"s":-1.05},{"q":-1.01,"s":-1.05},{"q":-1,"s":-1.05},{"q":-0.99,"s":-1.05},{"q":-0.98,"s":-1.05},{"q":-0.97,"s":-1.05},{"q":-0.96,"s":-1.05},{"q":-0.95,"s":-1.05},{"q":-0.94,"s":-1.05},{"q":-0.93,"s":-1.05},{"q":-0.92,"s":-1.05},{"q":-0.91,"s":-1.05},
{"q":-0.9,"s":-0.52},{"q":-0.89,"s":-0.52},{"q":-0.88,"s":-0.52},{"q":-0.87,"s":-0.52},{"q":-0.86,"s":-0.52},{"q":-0.85,"s":-0.52},{"q":-0.84,"s":-0.52},{"q":-0.83,"s":-0.52},{"q":-0.82,"s":-0.52},{"q":-0.81,"s":-0.52},{"q":-0.8,"s":-0.52},{"q":-0.79,"s":-0.52},{"q":-0.78,"s":-0.52},{"q":-0.77,"s":-0.52},{"q":-0.76,"s":-0.52},{"q":-0.75,"s":-0.52},{"q":-0.74,"s":-0.52},{"q":-0.73,"s":-0.52},{"q":-0.72,"s":-0.52},{"q":-0.71,"s":-0.52},{"q":-0.7,"s":-0.52},{"q":-0.69,"s":-0.52},{"q":-0.68,"s":-0.52},{"q":-0.67,"s":-0.52},{"q":-0.66,"s":-0.52},{"q":-0.65,"s":-0.52},{"q":-0.64,"s":-0.52},{"q":-0.63,"s":-0.52},{"q":-0.62,"s":-0.52},{"q":-0.61,"s":-0.52},{"q":-0.6,"s":-0.52},{"q":-0.59,"s":-0.52},{"q":-0.58,"s":-0.52},{"q":-0.57,"s":-0.52},{"q":-0.56,"s":-0.52},{"q":-0.55,"s":-0.52},{"q":-0.54,"s":-0.52},{"q":-0.53,"s":-0.52},{"q":-0.52,"s":-0.52},{"q":-0.51,"s":-0.52},{"q":-0.5,"s":-0.52},{"q":-0.49,"s":-0.52},{"q":-0.48,"s":-0.52},{"q":-0.47,"s":-0.52},{"q":-0.46,"s":-0.52},{"q":-0.45,"s":-0.52},
{"q":-0.44,"s":0},{"q":-0.43,"s":0},{"q":-0.42,"s":0},{"q":-0.41,"s":0},{"q":-0.4,"s":0},{"q":-0.39,"s":0},{"q":-0.38,"s":0},{"q":-0.37,"s":0},{"q":-0.36,"s":0},{"q":-0.35,"s":0},{"q":-0.34,"s":0},{"q":-0.33,"s":0},{"q":-0.32,"s":0},{"q":-0.31,"s":0},{"q":-0.3,"s":0},{"q":-0.29,"s":0},{"q":-0.28,"s":0},{"q":-0.27,"s":0},{"q":-0.26,"s":0},{"q":-0.25,"s":0},{"q":-0.24,"s":0},{"q":-0.23,"s":0},{"q":-0.22,"s":0},{"q":-0.21,"s":0},{"q":-0.2,"s":0},{"q":-0.19,"s":0},{"q":-0.18,"s":0},{"q":-0.17,"s":0},{"q":-0.16,"s":0},{"q":-0.15,"s":0},{"q":-0.14,"s":0},{"q":-0.13,"s":0},{"q":-0.12,"s":0},{"q":-0.11,"s":0},{"q":-0.1,"s":0},{"q":-0.09,"s":0},{"q":-0.08,"s":0},{"q":-0.07,"s":0},{"q":-0.06,"s":0},{"q":-0.05,"s":0},{"q":-0.04,"s":0},{"q":-0.03,"s":0},{"q":-0.02,"s":0},{"q":-0.01,"s":0},{"q":0,"s":0},{"q":0.01,"s":0},
{"q":0.02,"s":0.37},{"q":0.03,"s":0.37},{"q":0.04,"s":0.37},{"q":0.05,"s":0.37},{"q":0.06,"s":0.37},{"q":0.07,"s":0.37},{"q":0.08,"s":0.37},{"q":0.09,"s":0.37},{"q":0.1,"s":0.37},{"q":0.11,"s":0.37},{"q":0.12,"s":0.37},{"q":0.13,"s":0.37},{"q":0.14,"s":0.37},{"q":0.15,"s":0.37},{"q":0.16,"s":0.37},{"q":0.17,"s":0.37},{"q":0.18,"s":0.37},{"q":0.19,"s":0.37},{"q":0.2,"s":0.37},{"q":0.21,"s":0.37},{"q":0.22,"s":0.37},{"q":0.23,"s":0.37},{"q":0.24,"s":0.37},{"q":0.25,"s":0.37},{"q":0.26,"s":0.37},{"q":0.27,"s":0.37},{"q":0.28,"s":0.37},{"q":0.29,"s":0.37},{"q":0.3,"s":0.37},{"q":0.31,"s":0.37},{"q":0.32,"s":0.37},{"q":0.33,"s":0.37},{"q":0.34,"s":0.37},{"q":0.35,"s":0.37},{"q":0.36,"s":0.37},{"q":0.37,"s":0.37},{"q":0.38,"s":0.37},{"q":0.39,"s":0.37},{"q":0.4,"s":0.37},{"q":0.41,"s":0.37},
{"q":0.42,"s":0.72},{"q":0.43,"s":0.72},{"q":0.44,"s":0.72},{"q":0.45,"s":0.72},{"q":0.46,"s":0.72},{"q":0.47,"s":0.72},{"q":0.48,"s":0.72},{"q":0.49,"s":0.72},{"q":0.5,"s":0.72},{"q":0.51,"s":0.72},{"q":0.52,"s":0.72},{"q":0.53,"s":0.72},{"q":0.54,"s":0.72},{"q":0.55,"s":0.72},{"q":0.56,"s":0.72},{"q":0.57,"s":0.72},{"q":0.58,"s":0.72},{"q":0.59,"s":0.72},{"q":0.6,"s":0.72},{"q":0.61,"s":0.72},{"q":0.62,"s":0.72},{"q":0.63,"s":0.72},{"q":0.64,"s":0.72},{"q":0.65,"s":0.72},{"q":0.66,"s":0.72},{"q":0.67,"s":0.72},{"q":0.68,"s":0.72},{"q":0.69,"s":0.72},{"q":0.7,"s":0.72},{"q":0.71,"s":0.72},{"q":0.72,"s":0.72},{"q":0.73,"s":0.72},{"q":0.74,"s":0.72},{"q":0.75,"s":0.72},{"q":0.76,"s":0.72},{"q":0.77,"s":0.72},{"q":0.78,"s":0.72},{"q":0.79,"s":0.72},{"q":0.8,"s":0.72},{"q":0.81,"s":0.72},{"q":0.82,"s":0.72},{"q":0.83,"s":0.72},
{"q":0.84,"s":1.06},{"q":0.85,"s":1.06},{"q":0.86,"s":1.06},{"q":0.87,"s":1.06},{"q":0.88,"s":1.06},{"q":0.89,"s":1.06},{"q":0.9,"s":1.06},{"q":0.91,"s":1.06},{"q":0.92,"s":1.06},{"q":0.93,"s":1.06},{"q":0.94,"s":1.06},{"q":0.95,"s":1.06},{"q":0.96,"s":1.06},{"q":0.97,"s":1.06},{"q":0.98,"s":1.06},{"q":0.99,"s":1.06},{"q":1,"s":1.06},{"q":1.01,"s":1.06},{"q":1.02,"s":1.06},{"q":1.03,"s":1.06},{"q":1.04,"s":1.06},{"q":1.05,"s":1.06},{"q":1.06,"s":1.06},{"q":1.07,"s":1.06},{"q":1.08,"s":1.06},{"q":1.09,"s":1.06},{"q":1.1,"s":1.06},{"q":1.11,"s":1.06},{"q":1.12,"s":1.06},{"q":1.13,"s":1.06},{"q":1.14,"s":1.06},{"q":1.15,"s":1.06},{"q":1.16,"s":1.06},{"q":1.17,"s":1.06},{"q":1.18,"s":1.06},{"q":1.19,"s":1.06},{"q":1.2,"s":1.06},{"q":1.21,"s":1.06},{"q":1.22,"s":1.06},{"q":1.23,"s":1.06},{"q":1.24,"s":1.06},{"q":1.25,"s":1.06},
{"q":1.26,"s":1.42},{"q":1.27,"s":1.42},{"q":1.28,"s":1.42},{"q":1.29,"s":1.42},{"q":1.3,"s":1.42},{"q":1.31,"s":1.42},{"q":1.32,"s":1.42},{"q":1.33,"s":1.42},{"q":1.34,"s":1.42},{"q":1.35,"s":1.42},{"q":1.36,"s":1.42},{"q":1.37,"s":1.42},{"q":1.38,"s":1.42},{"q":1.39,"s":1.42},{"q":1.4,"s":1.42},{"q":1.41,"s":1.42},{"q":1.42,"s":1.42},{"q":1.43,"s":1.42},{"q":1.44,"s":1.42},{"q":1.45,"s":1.42},{"q":1.46,"s":1.42},{"q":1.47,"s":1.42},{"q":1.48,"s":1.42},{"q":1.49,"s":1.42},{"q":1.5,"s":1.42},{"q":1.51,"s":1.42},{"q":1.52,"s":1.42},{"q":1.53,"s":1.42},{"q":1.54,"s":1.42},{"q":1.55,"s":1.42},{"q":1.56,"s":1.42},{"q":1.57,"s":1.42},
{"q":1.58,"s":1.84},{"q":1.59,"s":1.84},{"q":1.6,"s":1.84},{"q":1.61,"s":1.84},{"q":1.62,"s":1.84},{"q":1.63,"s":1.84},{"q":1.64,"s":1.84},{"q":1.65,"s":1.84},{"q":1.66,"s":1.84},{"q":1.67,"s":1.84},{"q":1.68,"s":1.84},{"q":1.69,"s":1.84},{"q":1.7,"s":1.84},{"q":1.71,"s":1.84},{"q":1.72,"s":1.84},{"q":1.73,"s":1.84},{"q":1.74,"s":1.84},{"q":1.75,"s":1.84},{"q":1.76,"s":1.84},{"q":1.77,"s":1.84},{"q":1.78,"s":1.84},{"q":1.79,"s":1.84},{"q":1.8,"s":1.84},{"q":1.81,"s":1.84},{"q":1.82,"s":1.84},{"q":1.83,"s":1.84},{"q":1.84,"s":1.84},{"q":1.85,"s":1.84},{"q":1.86,"s":1.84},{"q":1.87,"s":1.84},{"q":1.88,"s":1.84},{"q":1.89,"s":1.84},{"q":1.9,"s":1.84},{"q":1.91,"s":1.84},{"q":1.92,"s":1.84},{"q":1.93,"s":1.84},{"q":1.94,"s":1.84},{"q":1.95,"s":1.84},{"q":1.96,"s":1.84},{"q":1.97,"s":1.84},
{"q":1.98,"s":2.05},{"q":1.99,"s":2.05},{"q":2,"s":2.05},{"q":2.01,"s":2.05},{"q":2.02,"s":2.05},{"q":2.03,"s":2.05},{"q":2.04,"s":2.05},{"q":2.05,"s":2.05},{"q":2.06,"s":2.05},{"q":2.07,"s":2.05},{"q":2.08,"s":2.05},{"q":2.09,"s":2.05},{"q":2.1,"s":2.05},{"q":2.11,"s":2.05},{"q":2.12,"s":2.05},{"q":2.13,"s":2.05},
{"q":2.16,"s":2.2},{"q":2.2,"s":2.24},{"q":2.24,"s":2.28},{"q":2.28,"s":2.32},{"q":2.33,"s":2.36},{"q":2.36,"s":2.4},{"q":2.39,"s":2.44},{"q":2.43,"s":2.48},{"q":2.47,"s":2.52},{"q":2.515,"s":2.58},{"q":2.565,"s":2.7},{"q":2.62,"s":3.02},{"q":2.69,"s":3.06},{"q":2.77,"s":3.12},{"q":2.88,"s":4.6},{"q":3.04,"s":4.65},{"q":3.355,"s":6.06}
 ],
 "qqline": [{"q":-3.7,"s":-3.11},{"q":3.7,"s":3.23}],
 "qlab": [{"q":3.002,"s":4.8,"t":"22"},{"q":3.149,"s":4.05,"t":"283"},{"q":3.226,"s":6.7,"t":"931"}]
},
"vconcat": [
 {
  "width": 1023, "height": 58,
  "title": {"text": "Residuals vs Fitted", "anchor": "middle", "frame": "group", "dx": 5, "offset": -46.5, "baseline": "alphabetic", "fontSize": 28, "fontWeight": "normal", "font": "Liberation Sans", "color": "#000"},
  "resolve": {"axis": {"x": "independent", "y": "independent"}},
  "layer": [
   {"data": {"name": "resid"},
    "mark": {"type": "point", "shape": "circle", "filled": false, "size": 80, "strokeWidth": 1.5, "color": "#000", "opacity": 1, "clip": true},
    "encoding": {
     "x": {"field": "f", "type": "quantitative", "scale": {"domain": [-0.05698, 0.08823], "nice": false, "zero": false},
      "axis": {"values": [-0.04,-0.02,0,0.02,0.04,0.06,0.08], "labelExpr": "datum.value < 0 ? '-' + format(-datum.value, '.2f') : format(datum.value, '.2f')", "title": "Fitted values", "titleX": 517, "titleY": 133.7, "titleAlign": "center", "titleBaseline": "alphabetic", "labelBaseline": "alphabetic", "labelAlign": "center", "labelPadding": 44, "tickSize": 18}},
     "y": {"field": "r", "type": "quantitative", "scale": {"domain": [-0.118, 0.162], "nice": false, "zero": false},
      "axis": {"values": [-0.1,-0.05,0,0.05,0.1,0.15], "labelExpr": "abs(datum.value + 0.1) < 0.000001 ? '-0.10' : ''", "title": "Residuals", "titleX": -108.3, "titleY": 29, "titleAngle": 270, "titleAlign": "center", "titleBaseline": "alphabetic", "labelAngle": 270, "labelAlign": "center", "labelBaseline": "alphabetic", "labelPadding": 22, "tickSize": 17}}
    }},
   {"data": {"name": "lowess"},
    "mark": {"type": "line", "color": "#DF536B", "strokeWidth": 1.5, "clip": true},
    "encoding": {
     "x": {"field": "f", "type": "quantitative", "scale": {"domain": [-0.05698, 0.08823], "nice": false, "zero": false}, "axis": {"orient": "top", "ticks": false, "labels": false, "title": null, "domain": true}},
     "y": {"field": "r", "type": "quantitative", "scale": {"domain": [-0.118, 0.162], "nice": false, "zero": false}, "axis": null}
    }},
   {"data": {"name": "zero"},
    "mark": {"type": "rule", "color": "#BEBEBE", "strokeWidth": 1.5, "strokeDash": [3, 4]},
    "encoding": {
     "y": {"field": "r", "type": "quantitative", "scale": {"domain": [-0.118, 0.162], "nice": false, "zero": false}, "axis": null}
    }},
   {"data": {"name": "rlab"},
    "mark": {"type": "text", "fontSize": 21, "font": "Liberation Sans", "color": "#000", "align": "center", "baseline": "middle", "clip": true},
    "encoding": {
     "x": {"field": "f", "type": "quantitative", "scale": {"domain": [-0.05698, 0.08823], "nice": false, "zero": false}, "axis": null},
     "y": {"field": "r", "type": "quantitative", "scale": {"domain": [-0.118, 0.162], "nice": false, "zero": false}, "axis": null},
     "text": {"field": "t"}
    }}
  ]
 },
 {
  "width": 1023, "height": 58,
  "title": {"text": "Normal Q-Q", "anchor": "middle", "frame": "group", "dx": 5, "offset": -127.8, "baseline": "alphabetic", "fontSize": 28, "fontWeight": "normal", "font": "Liberation Sans", "color": "#000"},
  "resolve": {"axis": {"x": "independent", "y": "independent"}},
  "layer": [
   {"data": {"name": "qq"},
    "mark": {"type": "point", "shape": "circle", "filled": false, "size": 80, "strokeWidth": 1.5, "color": "#000", "opacity": 1, "clip": true},
    "encoding": {
     "x": {"field": "q", "type": "quantitative", "scale": {"domain": [-3.624, 3.5464], "nice": false, "zero": false},
      "axis": {"values": [-3,-2,-1,0,1,2,3], "labelExpr": "datum.value < 0 ? '-' + (-datum.value) : '' + datum.value", "title": "Theoretical Quantiles", "titleX": 517, "titleY": 131.3, "titleAlign": "center", "titleBaseline": "alphabetic", "labelBaseline": "alphabetic", "labelAlign": "center", "labelPadding": 42, "tickSize": 17}},
     "y": {"field": "s", "type": "quantitative", "scale": {"domain": [-4.84, 7.4], "nice": false, "zero": false},
      "axis": {"values": [-4,-2,0,2,4,6], "labelExpr": "datum.value == -4 ? '-4' : (datum.value == 6 ? '6' : '')", "title": "Standardized residuals", "titleX": -108.3, "titleY": 29, "titleAngle": 270, "titleAlign": "center", "titleBaseline": "alphabetic", "labelAngle": 270, "labelAlign": "center", "labelBaseline": "alphabetic", "labelPadding": 22, "tickSize": 17}}
    }},
   {"data": {"name": "qqline"},
    "mark": {"type": "line", "color": "#7F7F7F", "strokeWidth": 1.5, "strokeDash": [3, 4], "clip": true},
    "encoding": {
     "x": {"field": "q", "type": "quantitative", "scale": {"domain": [-3.624, 3.5464], "nice": false, "zero": false}, "axis": {"orient": "top", "ticks": false, "labels": false, "title": null, "domain": true}},
     "y": {"field": "s", "type": "quantitative", "scale": {"domain": [-4.84, 7.4], "nice": false, "zero": false}, "axis": null}
    }},
   {"data": {"name": "qlab"},
    "mark": {"type": "text", "fontSize": 21, "font": "Liberation Sans", "color": "#000", "align": "center", "baseline": "middle", "clip": true},
    "encoding": {
     "x": {"field": "q", "type": "quantitative", "scale": {"domain": [-3.624, 3.5464], "nice": false, "zero": false}, "axis": null},
     "y": {"field": "s", "type": "quantitative", "scale": {"domain": [-4.84, 7.4], "nice": false, "zero": false}, "axis": null},
     "text": {"field": "t"}
    }}
  ]
 }
]
}
